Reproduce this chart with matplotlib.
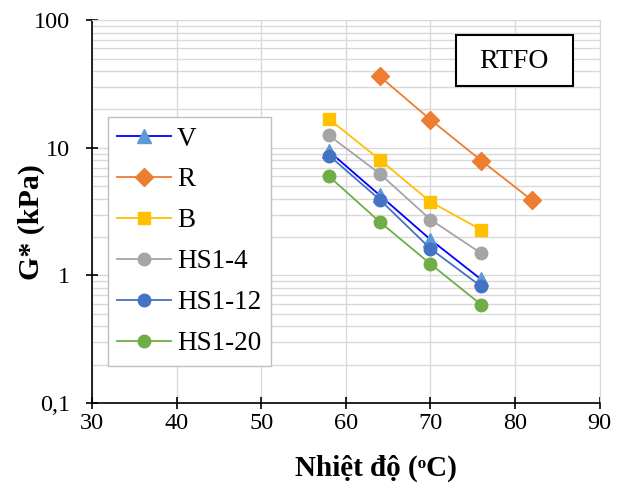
import matplotlib
matplotlib.use("Agg")
import matplotlib.pyplot as plt
from matplotlib.patches import Rectangle
from matplotlib.ticker import FixedLocator, FixedFormatter, LogLocator, NullFormatter

plt.rcParams['font.family'] = ['Liberation Serif', 'DejaVu Serif']

temps_a = [58, 64, 70, 76]
temps_r = [64, 70, 76, 82]
V = [9.4, 4.25, 1.91, 0.93]
R = [36.3, 16.6, 7.94, 3.88]
B = [16.8, 8.09, 3.77, 2.28]
HS1_4 = [12.5, 6.28, 2.74, 1.49]
HS1_12 = [8.7, 3.93, 1.62, 0.82]
HS1_20 = [5.98, 2.63, 1.23, 0.59]

yticks = [0.1, 1, 10, 100]
ytick_labels = ["0,1", "1", "10", "100"]
xticks = [30, 40, 50, 60, 70, 80, 90]

fig = plt.figure(figsize=(6.26, 4.91), dpi=100)
ax = fig.add_axes([0.147, 0.179, 0.811, 0.780])

ax.set_yscale('log')
ax.set_xlim(30, 90)
ax.set_ylim(0.1, 100)

ax.plot(temps_a, V, color='#0000FF', lw=1.3, marker='^', ms=10, mfc='#5B9BD5', mec='#5B9BD5', label='V', zorder=5)
ax.plot(temps_r, R, color='#ED7D31', lw=1.3, marker='D', ms=9, mfc='#ED7D31', mec='#ED7D31', label='R', zorder=5)
ax.plot(temps_a, B, color='#FFC000', lw=1.3, marker='s', ms=9, mfc='#FFC000', mec='#FFC000', label='B', zorder=5)
ax.plot(temps_a, HS1_4, color='#A5A5A5', lw=1.3, marker='o', ms=9, mfc='#A5A5A5', mec='#A5A5A5', label='HS1-4', zorder=5)
ax.plot(temps_a, HS1_12, color='#4472C4', lw=1.3, marker='o', ms=9, mfc='#4472C4', mec='#4472C4', label='HS1-12', zorder=5)
ax.plot(temps_a, HS1_20, color='#70AD47', lw=1.3, marker='o', ms=9, mfc='#70AD47', mec='#70AD47', label='HS1-20', zorder=5)

ax.yaxis.set_major_locator(FixedLocator(yticks))
ax.yaxis.set_major_formatter(FixedFormatter(ytick_labels))
ax.yaxis.set_minor_locator(LogLocator(base=10, subs=range(2, 10)))
ax.yaxis.set_minor_formatter(NullFormatter())
ax.set_xticks(xticks)

ax.grid(True, which='major', color='#D9D9D9', lw=1.0)
ax.grid(True, which='minor', axis='y', color='#D9D9D9', lw=1.0)
ax.set_axisbelow(True)

for s in ['top', 'right']:
    ax.spines[s].set_color('#D9D9D9')
for s in ['left', 'bottom']:
    ax.spines[s].set_color('black')
    ax.spines[s].set_linewidth(1.2)

ax.tick_params(axis='both', which='major', direction='inout', length=8, width=1.2, labelsize=17.5, colors='black')
ax.tick_params(axis='y', which='major', pad=12)
ax.tick_params(axis='x', which='major', pad=3)
ax.tick_params(axis='y', which='minor', length=0)

ax.set_xlabel('Nhiệt độ (ᵒC)', fontsize=21, fontweight='bold')
ax.xaxis.set_label_coords(0.56, -0.135)
ax.set_ylabel('G* (kPa)', fontsize=21.5, fontweight='bold', va='center')
ax.yaxis.set_label_coords(-0.12, 0.473)

leg = ax.legend(loc='upper left', bbox_to_anchor=(0.031, 0.747), fontsize=19.5,
                frameon=True, fancybox=False, edgecolor='#BFBFBF', framealpha=1,
                handlelength=2.0, labelspacing=0.59, borderpad=0.35, handletextpad=0.2,
                borderaxespad=0.0)
leg.get_frame().set_linewidth(1.0)

ax.add_patch(Rectangle((0.7165, 0.828), 0.2305, 0.133, transform=ax.transAxes,
                       fc='white', ec='black', lw=1.5, zorder=9))
ax.text(0.831, 0.893, 'RTFO', transform=ax.transAxes, fontsize=20, ha='center', va='center', zorder=10)

fig.savefig('out.png', dpi=100)
